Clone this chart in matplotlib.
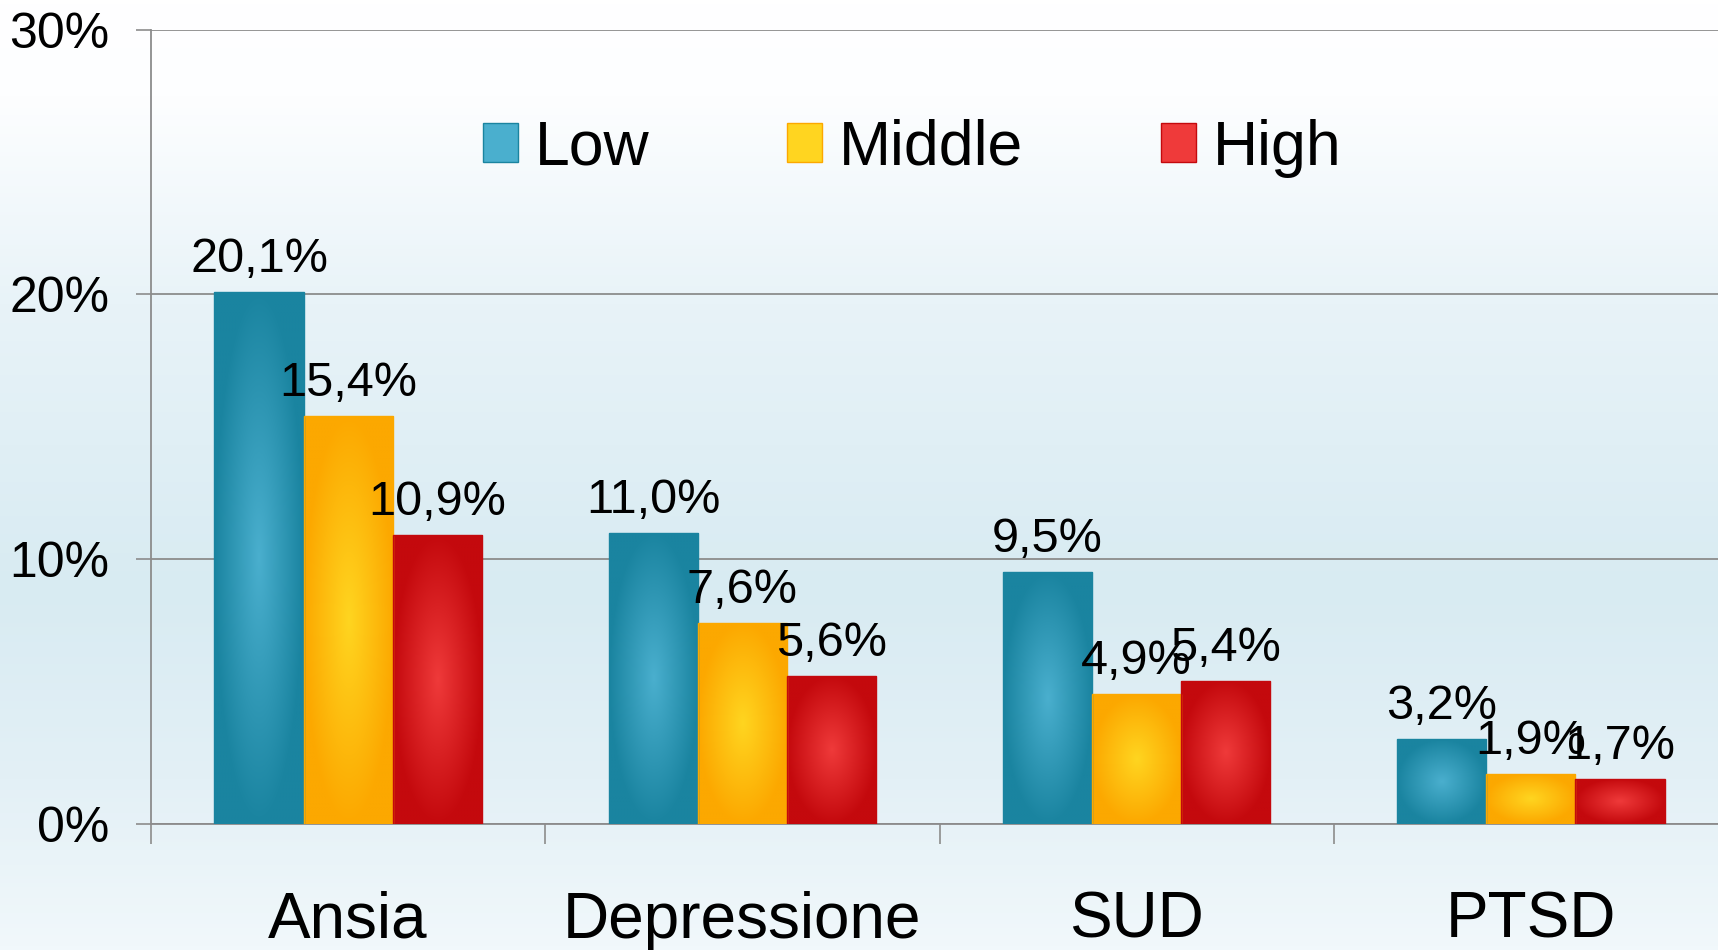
import numpy as np
import matplotlib
matplotlib.use("Agg")
import matplotlib.pyplot as plt
from matplotlib.colors import LinearSegmentedColormap
from matplotlib.patches import Patch

plt.rcParams['font.family'] = ['Liberation Sans', 'DejaVu Sans']

# --- data ---
categories = ["Ansia", "Depressione", "SUD", "PTSD"]
series_names = ["Low", "Middle", "High"]
low = [20.1, 11.0, 9.5, 3.2]
middle = [15.4, 7.6, 4.9, 1.9]
high = [10.9, 5.6, 5.4, 1.7]
y_ticks = [0, 10, 20, 30]
y_tick_labels = ["0%", "10%", "20%", "30%"]

series_values = [low, middle, high]
# (edge colour, centre colour) for the shaded bars
series_colors = [("#1a84a0", "#4aafce"),
                 ("#fca800", "#ffd520"),
                 ("#c4090d", "#ef3a3a")]

W, H, DPI = 1718, 950, 100
fig = plt.figure(figsize=(W / DPI, H / DPI), dpi=DPI)

# soft vertical background wash
bg = fig.add_axes([0, 0, 1, 1], zorder=-10)
bg_cmap = LinearSegmentedColormap.from_list(
    "bg", [(0.0, "#ffffff"), (0.10, "#fdfeff"), (0.32, "#e8f3f8"),
           (0.62, "#d8ebf2"), (0.82, "#e3f0f6"), (1.0, "#f1f8fb")])
bg.imshow(np.linspace(0, 1, 256)[:, None], cmap=bg_cmap, aspect="auto",
          extent=(0, 1, 0, 1), origin="upper")
bg.set_axis_off()

ax = fig.add_axes([151 / W, 126 / H, (1728 - 151) / W, (824 - 29.5) / H])
ax.set_facecolor("none")

n = len(categories)
x = np.arange(n)
bw = 0.226
offsets = [-bw, 0.0, bw]

grid_c = "#8c8c8c"

# radial shading grid used inside each bar
gx, gy = np.meshgrid(np.linspace(-1, 1, 120), np.linspace(-1, 1, 200))
shade = 1 - np.clip(np.sqrt(gx ** 2 + gy ** 2), 0, 1)

for vals, off, (edge_c, mid_c), name in zip(series_values, offsets,
                                             series_colors, series_names):
    bars = ax.bar(x + off, vals, width=bw, color=mid_c, edgecolor=edge_c,
                  linewidth=1.0, zorder=3, label=name)
    cmap = LinearSegmentedColormap.from_list(name, [edge_c, mid_c])
    for b, v in zip(bars, vals):
        x0, w0, h0 = b.get_x(), b.get_width(), b.get_height()
        im = ax.imshow(shade, cmap=cmap, vmin=0, vmax=1, aspect="auto",
                       extent=(x0, x0 + w0, 0, h0), zorder=3.5,
                       interpolation="bilinear")
        im.set_clip_path(b)
        ax.annotate(f"{v:.1f}%".replace(".", ","), (x0 + w0 / 2, h0),
                    xytext=(0, 14.4), textcoords="offset points",
                    ha="center", va="baseline", fontsize=35, zorder=6)
    for b in bars:
        b.set_facecolor("none")
        b.set_zorder(4)

ax.set_xlim(-0.5, n - 0.5)
ax.set_ylim(0, 30)

# y axis
ax.set_yticks(y_ticks)
ax.set_yticklabels(y_tick_labels, fontsize=36)
ax.tick_params(axis="y", length=10.8, width=1.2, color=grid_c, pad=19)
ax.yaxis.grid(True, color=grid_c, linewidth=1.3, zorder=1)
ax.set_axisbelow(True)

# x axis: ticks at category boundaries, labels at centres
ax.set_xticks(np.arange(n + 1) - 0.5)
ax.set_xticklabels([])
ax.tick_params(axis="x", which="major", length=14.4, width=1.2, color=grid_c)
ax.set_xticks(x, minor=True)
ax.set_xticklabels(categories, minor=True, fontsize=46)
ax.tick_params(axis="x", which="minor", length=0, pad=48)

for side in ("top", "right"):
    ax.spines[side].set_visible(False)
for side in ("left", "bottom"):
    ax.spines[side].set_color(grid_c)
    ax.spines[side].set_linewidth(1.3)

handles = [Patch(facecolor=mid_c, edgecolor=edge_c, linewidth=1.0)
           for edge_c, mid_c in series_colors]
fig.legend(handles, series_names, loc="center",
           bbox_to_anchor=(912 / W, 1 - 148 / H), ncol=3, frameon=False,
           fontsize=45, handlelength=0.56, handleheight=0.58,
           handletextpad=0.27, columnspacing=2.2, borderpad=0)

fig.savefig("out.png", dpi=DPI)
